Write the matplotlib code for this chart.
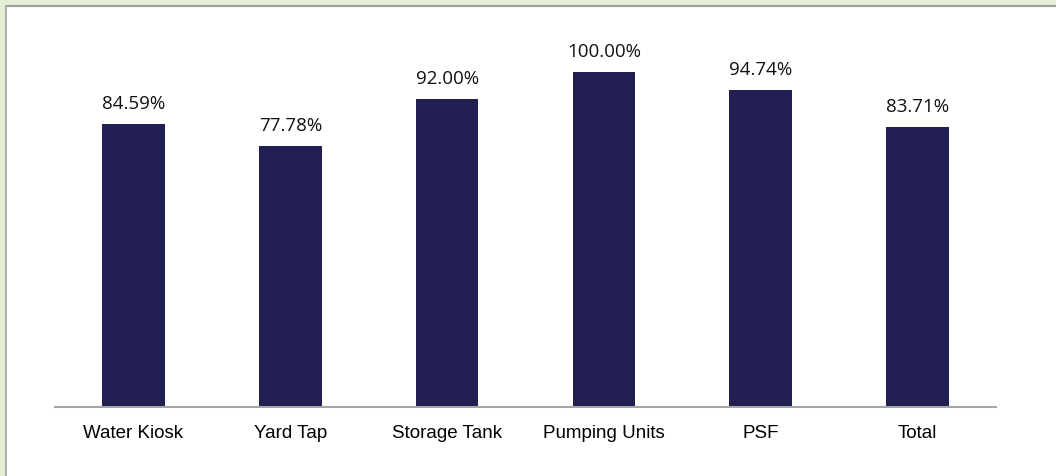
import matplotlib.pyplot as plt
from matplotlib.patches import Rectangle
from matplotlib.lines import Line2D

categories = ["Water Kiosk", "Yard Tap", "Storage Tank", "Pumping Units", "PSF", "Total"]
values = [84.59, 77.78, 92.00, 100.00, 94.74, 83.71]

W, H = 1056, 477
fig = plt.figure(figsize=(W / 100, H / 100), dpi=100, facecolor="#e6eed8")

# white panel with gray border on top/left
fig.patches.append(Rectangle((6 / W, 0), 1, 1 - 7 / H, transform=fig.transFigure,
                             facecolor="white", edgecolor="none", zorder=-5))
fig.lines.append(Line2D([6 / W, 1], [1 - 7 / H, 1 - 7 / H], transform=fig.transFigure,
                        color="#9a9f94", linewidth=1.5, zorder=-4))
fig.lines.append(Line2D([6 / W, 6 / W], [0, 1 - 7 / H], transform=fig.transFigure,
                        color="#b0b0b0", linewidth=1.5, zorder=-4))

base = 408
top = 408 - 335 * 1.2
ax = fig.add_axes([55 / W, 1 - base / H, 941 / W, (base - top) / H])
ax.set_facecolor("none")

x = range(len(categories))
bars = ax.bar(x, values, width=0.4, color="#221f52")
for b, v in zip(bars, values):
    ax.text(b.get_x() + b.get_width() / 2, v + 3.6, f"{v:.2f}%", ha="center", va="bottom",
            fontsize=13.5, family="Open Sans", color="#111111")

ax.set_xlim(-0.5, len(categories) - 0.5)
ax.set_ylim(0, 120)
ax.set_xticks(list(x))
ax.set_xticklabels(categories, family="Liberation Sans", fontsize=13.5)
ax.tick_params(axis="x", length=0, pad=12)
ax.set_yticks([])
for s in ["top", "right", "left"]:
    ax.spines[s].set_visible(False)
ax.spines["bottom"].set_color("#a6a6a6")
ax.spines["bottom"].set_linewidth(1.5)

fig.savefig("out.png", dpi=100, facecolor=fig.get_facecolor())
